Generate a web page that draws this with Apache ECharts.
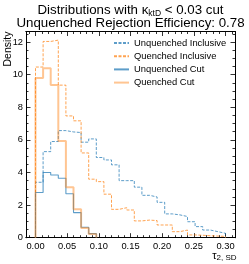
<!DOCTYPE html>
<html><head><meta charset="utf-8">
<script src="https://cdn.jsdelivr.net/npm/echarts@6/dist/echarts.min.js"></script>
<style>html,body{margin:0;padding:0;background:#fff}#c{width:249px;height:264px}</style>
</head><body><div id="c"></div>
<script>
// Histogram bin edges (tau_{2,SD})
const binEdges = [0, 0.012, 0.024, 0.036, 0.048, 0.060, 0.072, 0.084, 0.096, 0.108, 0.120, 0.132, 0.144, 0.156, 0.168, 0.180, 0.192, 0.204, 0.216, 0.228, 0.240, 0.252, 0.264, 0.276, 0.288, 0.300];
// Densities per bin
const unquenchedInclusive = [3.40, 5.28, 5.90, 6.57, 6.49, 6.45, 5.86, 6.06, 4.92, 4.77, 4.47, 3.50, 3.50, 3.10, 2.60, 2.50, 2.17, 1.46, 1.40, 1.30, 0.98, 0.68, 0.47, 0.37, 0.27];
const quenchedInclusive   = [10.47, 12.04, 12.12, 9.36, 7.47, 7.17, 5.20, 3.59, 3.44, 2.67, 1.74, 1.84, 1.70, 1.03, 1.08, 1.05, 0.78, 0.78, 0.37, 0.47, 0.17, 0.15, 0.12, 0.10, 0.08];
const unquenchedCut       = [2.77, 4.00, 3.85, 3.65, 2.70, 1.54, 0.64, 0.25];
const quenchedCut         = [9.80, 10.40, 9.37, 5.94, 3.10, 1.75, 0.60, 0.22];
const seriesNames = ['Unquenched Inclusive', 'Quenched Inclusive', 'Unquenched Cut', 'Quenched Cut'];
// Tick labels
const xTicks = [0.00, 0.05, 0.10, 0.15, 0.20, 0.25, 0.30];
const yTicks = [0, 2, 4, 6, 8, 10, 12];
const titleLine2 = 'Unquenched Rejection Efficiency: 0.78';

const FONT = '"Liberation Sans", Arial, Helvetica, sans-serif';
const XMIN = -0.015, XMAX = 0.315, YMIN = 0, YMAX = 12.65;

const xMinor = []; for (let i = -1; i <= 31; i++) { if (i % 5 !== 0) xMinor.push(+(i * 0.01).toFixed(3)); }
const yMinor = []; for (let i = 1; i <= 25; i++) { if (i % 4 !== 0) yMinor.push(i * 0.5); }

function stepData(vals) {
  const d = [[binEdges[0], 0]];
  vals.forEach((v, i) => d.push([binEdges[i], v]));
  const n = vals.length;
  d.push([binEdges[n], vals[n - 1]]);
  d.push([binEdges[n], 0]);
  return d;
}

const BLUE = 'rgba(31,119,180,0.72)';
const ORANGE = 'rgba(255,127,14,0.72)';
const ORANGE_L = 'rgba(255,127,14,0.45)';

function mkX(grid, pos, ticks, len, labels) {
  return {
    type: 'value', gridIndex: grid, position: pos, min: XMIN, max: XMAX,
    axisLine: { show: true, onZero: false, lineStyle: { color: '#000', width: 1 } },
    axisTick: { show: true, inside: true, length: len, customValues: ticks, lineStyle: { color: '#000', width: 0.8 } },
    axisLabel: labels ? { show: true, customValues: xTicks, formatter: v => v.toFixed(2), fontSize: 9.3, fontFamily: FONT, color: '#000', margin: 4 } : { show: false },
    splitLine: { show: false }
  };
}
function mkY(grid, pos, ticks, len, labels) {
  return {
    type: 'value', gridIndex: grid, position: pos, min: YMIN, max: YMAX,
    axisLine: { show: true, onZero: false, lineStyle: { color: '#000', width: 1 } },
    axisTick: { show: true, inside: true, length: len, customValues: ticks, lineStyle: { color: '#000', width: 0.8 } },
    axisLabel: labels ? { show: true, customValues: yTicks, fontSize: 9.3, fontFamily: FONT, color: '#000', margin: 3 } : { show: false },
    splitLine: { show: false }
  };
}

const gridBox = { left: 26, top: 31.5, width: 209, height: 206.2 };

const chart = echarts.init(document.getElementById('c'), null, { renderer: 'canvas' });
chart.setOption({
  animation: false,
  backgroundColor: '#fff',
  grid: [Object.assign({}, gridBox), Object.assign({}, gridBox)],
  xAxis: [mkX(0, 'bottom', xTicks, 4.5, true), mkX(0, 'top', xTicks, 4.5, false), mkX(1, 'bottom', xMinor, 2.5, false), mkX(1, 'top', xMinor, 2.5, false)],
  yAxis: [mkY(0, 'left', yTicks, 4.5, true), mkY(0, 'right', yTicks, 4.5, false), mkY(1, 'left', yMinor, 2.5, false), mkY(1, 'right', yMinor, 2.5, false)],
  legend: {
    orient: 'vertical', left: 113, top: 38, padding: 0, itemWidth: 15, itemHeight: 10, itemGap: 3.2,
    data: seriesNames,
    itemStyle: { color: 'rgba(0,0,0,0)', borderWidth: 0, opacity: 0 },
    textStyle: { fontSize: 9.4, fontFamily: FONT, color: '#000', lineHeight: 10 }
  },
  series: [
    { name: seriesNames[0], data: stepData(unquenchedInclusive), color: BLUE, lineStyle: { color: BLUE, width: 1, type: [3, 1.5] } },
    { name: seriesNames[1], data: stepData(quenchedInclusive), color: ORANGE, lineStyle: { color: ORANGE, width: 1, type: [3, 1.5] } },
    { name: seriesNames[2], data: stepData(unquenchedCut), color: BLUE, lineStyle: { color: BLUE, width: 1.1, type: 'solid' } },
    { name: seriesNames[3], data: stepData(quenchedCut), color: ORANGE_L, lineStyle: { color: ORANGE_L, width: 2, type: 'solid' } }
  ].map(s => Object.assign({ type: 'line', xAxisIndex: 0, yAxisIndex: 0, step: 'end', symbol: 'none', silent: true, z: 3 }, s)),
  graphic: [
    { type: 'text', x: 130.5, y: 10.5, style: {
      text: '{a|Distributions with κ}{s|ktD}{a| < 0.03 cut}', align: 'center', verticalAlign: 'middle',
      rich: { a: { fontSize: 13.3, fontFamily: FONT, fill: '#000', lineHeight: 15 }, s: { fontSize: 8.5, fontFamily: FONT, fill: '#000', lineHeight: 15, verticalAlign: 'bottom', padding: [4, 0, 0, 0] } } } },
    { type: 'text', x: 130.5, y: 23.5, style: { text: titleLine2, align: 'center', verticalAlign: 'middle', fontSize: 13.3, fontFamily: FONT, fill: '#000' } },
    { type: 'text', x: 8, y: 31.5, rotation: Math.PI / 2, style: { text: 'Density', align: 'right', verticalAlign: 'middle', fontSize: 10.5, fontFamily: FONT, fill: '#000' } },
    { type: 'text', x: 236.5, y: 255.5, style: {
      text: '{t|τ}{s|2, SD}', align: 'right', verticalAlign: 'middle',
      rich: { t: { fontSize: 11, fontFamily: FONT, fill: '#000', lineHeight: 13 }, s: { fontSize: 8, fontFamily: FONT, fill: '#000', lineHeight: 13, verticalAlign: 'bottom', padding: [3, 0, 0, 0] } } } }
  ]
});
</script></body></html>
